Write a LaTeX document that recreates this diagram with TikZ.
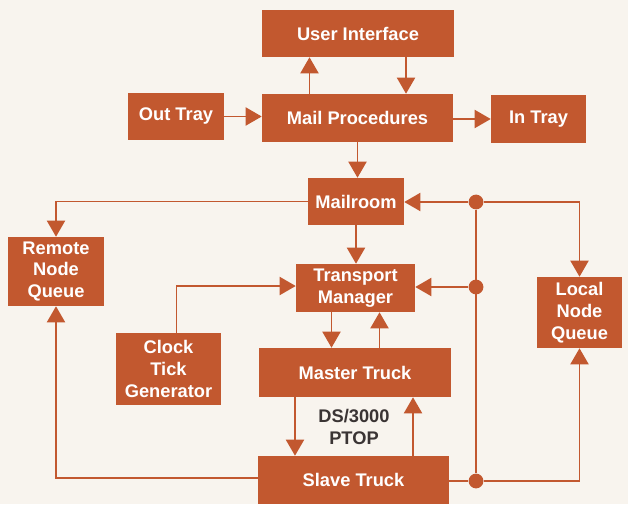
\documentclass[tikz,border=0pt]{standalone}
\usepackage{fontspec}
\setmainfont{Liberation Sans}
\usetikzlibrary{arrows.meta}
\definecolor{rust}{HTML}{C2582F}
\definecolor{paper}{HTML}{F8F4EE}
\definecolor{ink}{HTML}{3A3434}
\tikzset{
  block/.style={fill=rust, text=white, font=\bfseries\fontsize{13}{15.6}\selectfont,
    align=center, inner sep=0pt},
  link/.style={draw=rust, line width=1.1pt},
  arr/.style={link, -{Triangle[length=11.5pt, width=13pt]}},
  junction/.style={circle, fill=rust, inner sep=0pt, minimum size=0.37cm}
}
\begin{document}
\begin{tikzpicture}[x=0.025cm, y=-0.025cm]
    \useasboundingbox [fill=paper] (0, 0) rectangle (628, 504);

    % Mail handling
    \node [block, minimum width=4.8cm, minimum height=1.175cm] (ui) at (358, 33.5) {User Interface};
    \node [block, minimum width=4.775cm, minimum height=1.2cm] (mp) at (357.5, 118) {Mail Procedures};
    \node [block, minimum width=2.4cm, minimum height=1.175cm] (out) at (176, 116.5) {Out Tray};
    \node [block, minimum width=2.375cm, minimum height=1.2cm] (in) at (538.5, 119) {In Tray};
    \node [block, minimum width=2.4cm, minimum height=1.175cm] (mail) at (356, 201.5) {Mailroom};

    % Queues and transport
    \node [block, minimum width=2.4cm, minimum height=1.725cm] (remote) at (56, 271.5) {Remote\\Node\\Queue};
    \node [block, minimum width=2.125cm, minimum height=1.775cm] (local) at (579.5, 312.5) {Local\\Node\\Queue};
    \node [block, minimum width=2.975cm, minimum height=1.2cm] (tm) at (355.5, 288) {Transport\\Manager};
    \node [block, minimum width=2.625cm, minimum height=1.8cm] (clock) at (168.5, 369) {Clock\\Tick\\Generator};
    \node [block, minimum width=4.8cm, minimum height=1.225cm] (mt) at (355, 372.5) {Master Truck};
    \node [block, minimum width=4.775cm, minimum height=1.2cm] (st) at (353.5, 480) {Slave Truck};
    \node [text=ink, font=\bfseries\fontsize{13}{15.6}\selectfont, align=center] (ptop) at (354, 427) {DS/3000\\PTOP};

    % Junctions
    \node [junction] (d1) at (476, 202) {};
    \node [junction] (d2) at (476, 287) {};
    \node [junction] (d3) at (476, 481) {};

    % Top connections
    \draw [arr] (out) -- (out.east -| mp.west);
    \draw [arr] ([xshift=-1.2cm]mp.north) -- ([xshift=-1.2cm]mp.north |- ui.south);
    \draw [arr] ([xshift=1.2cm]ui.south) -- ([xshift=1.2cm]ui.south |- mp.north);
    \draw [arr] (mp.east |- in) -- (in.west);
    \draw [arr] (mp.south) -- (mail.north -| mp.south);

    % Mailroom and transport
    \draw [arr] (mail.west) -| (remote.north);
    \draw [arr] (mail.south) -- (tm.north -| mail.south);
    \draw [arr] ([xshift=0.2cm]clock.north) |- ([yshift=0.05cm]tm.west);
    \draw [arr] ([xshift=-0.6cm]tm.south) -- ([xshift=-0.6cm]tm.south |- mt.north);
    \draw [arr] ([xshift=0.6cm]mt.north -| tm.south) -- ([xshift=0.6cm]tm.south);
    \draw [arr] ([xshift=-1.5cm]mt.south) -- ([xshift=-1.5cm]mt.south |- st.north);
    \draw [arr] ([xshift=1.45cm]st.north -| mt.south) -- ([xshift=1.45cm]mt.south);
    \draw [arr] ([yshift=0.05cm]st.west) -| (remote.south);

    % Local loop
    \draw [link] (d1) -- (d3);
    \draw [arr] (d1) -- (d1 -| mail.east);
    \draw [arr] (d2) -- (d2 -| tm.east);
    \draw [arr] (d1) -| (local.north);
    \draw [link] (st.east |- d3) -- (d3);
    \draw [arr] (d3) -| (local.south);
\end{tikzpicture}
\end{document}
